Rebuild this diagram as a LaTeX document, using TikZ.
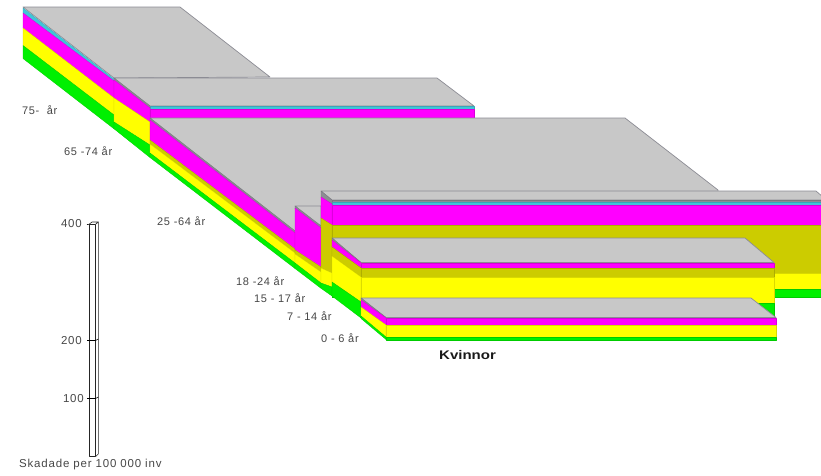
\documentclass[tikz,border=0pt]{standalone}
\usepackage{fontspec}
\setmainfont{Liberation Sans}
\newfontfamily\spaced[LetterSpace=6]{Liberation Sans}
\newfontfamily\spacedb[LetterSpace=7]{Liberation Sans}
\definecolor{gtop}{HTML}{C8C8C8}
\definecolor{gedge}{HTML}{8C8C94}
\definecolor{mag}{HTML}{FF00FF}
\definecolor{yel}{HTML}{FFFF00}
\definecolor{grn}{HTML}{00F000}
\definecolor{cya}{HTML}{40C4D8}
\definecolor{oli}{HTML}{CCCC00}
\tikzset{
  x=1pt,y=-1pt,
  topface/.style={fill=gtop,draw=gedge,line width=.7pt,line join=round},
  band/.style={fill=#1,draw=#1!85!black,line width=.3pt,line join=round},
  lab/.style={font=\spaced\fontsize{11}{13}\selectfont,text=black!72,anchor=west,inner sep=0pt},
  barline/.style={draw=black!85,line width=.6pt,fill=white,line join=round},
  tick/.style={draw=black,line width=.6pt}
}
% quadrilateral band between two x positions: x1 x2 top1 top2 bot1 bot2 colour
\newcommand{\bnd}[7]{\fill[band=#7] (#1,#3) -- (#2,#4) -- (#2,#6) -- (#1,#5) -- cycle;}
\begin{document}
\begin{tikzpicture}
\useasboundingbox (0,0) rectangle (821,475);
\fill[white] (0,0) rectangle (821,475);
\begin{scope}
\clip (0,0) rectangle (821,475);
% 75-
\draw[topface] (23,7) -- (180,7) -- (270,77) -- (114,78) -- cycle;
\bnd{23}{114}{8}{79}{13}{81}{cya}
\bnd{23}{114}{13}{81}{28}{98}{mag}
\bnd{23}{114}{28}{98}{45.5}{115}{yel}
\bnd{23}{114}{45.5}{115}{58.5}{128.8}{grn}
% 65-74
\draw[topface] (114,78) -- (437,78) -- (474,106) -- (150,106) -- cycle;
\bnd{150}{474}{106}{106}{109}{109}{cya}
\bnd{150}{474}{109}{109}{118}{118}{mag}
\bnd{114}{150}{78}{106}{81}{109}{gedge}
\bnd{114}{150}{80}{108}{98}{122}{mag}
\bnd{114}{150}{98}{122}{122}{145}{yel}
\bnd{114}{150}{122}{145}{128.8}{157.5}{grn}
% 25-64
\draw[topface] (150,118) -- (625,118) -- (718,190) -- (718,240) -- (321,240) -- (321,231) -- (295,231) -- cycle;
\bnd{150}{295}{118}{231}{120}{233}{gedge}
\bnd{150}{295}{120}{233}{140}{249}{mag}
\bnd{150}{295}{140}{249}{144}{253}{oli}
\bnd{150}{295}{144}{253}{153}{263}{yel}
\bnd{150}{295}{153}{263}{157.5}{268.5}{grn}
% 18-24
\draw[topface] (295,206) -- (321,206) -- (321,226) -- cycle;
\bnd{295}{321}{206}{226}{209}{229}{gedge}
\bnd{295}{321}{208}{228}{250}{267}{mag}
\bnd{295}{321}{250}{267}{254}{272}{oli}
\bnd{295}{321}{254}{272}{263}{283}{yel}
\bnd{295}{321}{263}{283}{268.5}{288.3}{grn}
% 15-17 : front face
\draw[topface] (321,191) -- (816,191) -- (823,197) -- (823,200) -- (332,200) -- cycle;
\bnd{332}{823}{200}{200}{203}{203}{gedge}
\bnd{332}{823}{202}{202}{205}{205}{cya}
\bnd{332}{823}{205}{205}{225}{225}{mag}
\bnd{332}{823}{225}{225}{273}{273}{oli}
\bnd{332}{823}{273}{273}{289.5}{289.5}{yel}
\bnd{332}{823}{289.5}{289.5}{297.5}{297.5}{grn}
% 15-17 : left face
\bnd{321}{332}{191}{200}{198}{204}{gedge}
\bnd{321}{332}{197}{204}{218}{225}{mag}
\bnd{321}{332}{218}{225}{268}{273}{oli}
\bnd{321}{332}{268}{273}{283}{287}{yel}
\bnd{321}{332}{283}{287}{288.3}{296}{grn}
% 7-14 : front face
\draw[topface] (332,238) -- (745,238) -- (774,262.5) -- (361,262.5) -- cycle;
\bnd{361}{774}{263}{263}{268}{268}{mag}
\bnd{361}{774}{268}{268}{277}{277}{oli}
\bnd{361}{774}{277}{277}{303}{303}{yel}
\bnd{361}{774}{303}{303}{317}{317}{grn}
% 7-14 : left face
\bnd{332}{361}{238}{262.5}{241}{265}{gedge}
\bnd{332}{361}{240}{263}{247}{268}{mag}
\bnd{332}{361}{247}{268}{256}{277}{oli}
\bnd{332}{361}{256}{277}{282}{302}{yel}
\bnd{332}{361}{282}{302}{296}{318}{grn}
% 0-6 : front face
\draw[topface] (361,298) -- (751,298) -- (776,317.5) -- (386,317.5) -- cycle;
\bnd{386}{776}{318}{318}{325}{325}{mag}
\bnd{386}{776}{325}{325}{337}{337}{yel}
\bnd{386}{776}{337}{337}{340}{340}{grn}
% 0-6 : left face
\bnd{361}{386}{298}{317.5}{300}{319}{gedge}
\bnd{361}{386}{300}{318}{307}{325}{mag}
\bnd{361}{386}{307}{325}{316}{337}{yel}
\bnd{361}{386}{316}{337}{318.5}{339.5}{grn}
\end{scope}
% scale bar
\draw[barline] (89,224.3) -- (92,222) -- (98.3,222) -- (95.6,224.3) -- cycle;
\draw[barline] (95.6,224.3) -- (98.3,222) -- (98.3,454) -- (95.6,456.7) -- cycle;
\draw[barline] (89,224.3) rectangle (95.6,456.7);
\draw[tick] (87,224.5) -- (89,224.3);
\draw[tick] (87,340.5) -- (95.6,340.5) -- (98.3,339);
\draw[tick] (87,398.5) -- (95.6,398.5) -- (98.3,397);
% labels
\tikzset{num/.style={font=\spacedb\fontsize{11.5}{13}\selectfont,text=black!72,inner sep=0pt}}
\node[num,anchor=east] (n400) at (82,224) {400};
\node[num,anchor=east] (n200) at (82,340.7) {200};
\node[num,anchor=east] (n100) at (84,398.7) {100};
\node[num,anchor=west] (s) at (19,465) {Skadade per 100 000 inv};
\node[lab] (a75) at (22,110) {75-\ \ år};
\node[lab] (a65) at (64,151) {65 -74 år};
\node[lab] (a25) at (157,221) {25 -64 år};
\node[lab] (a18) at (236,281) {18 -24 år};
\node[lab] (a15) at (254,298) {15 - 17 år};
\node[lab] (a7) at (287,316) {7 - 14 år};
\node[lab] (a0) at (321,338) {0 - 6 år};
\node[anchor=west,inner sep=0pt,text=black!90,font=\bfseries\fontsize{12.5}{14}\selectfont] (k) at (439,354.7) {\scalebox{1.2}[1]{Kvinnor}};
\end{tikzpicture}
\end{document}
